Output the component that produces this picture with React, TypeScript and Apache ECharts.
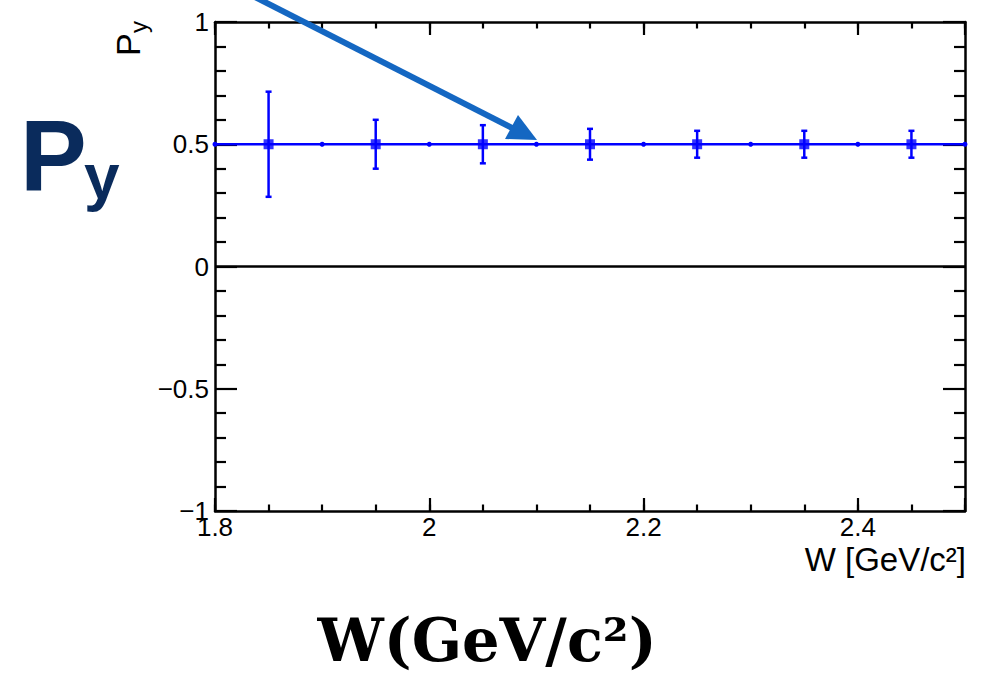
import React, { useEffect, useRef } from "react";
import * as echarts from "echarts";

// ---- data ----
const binEdges = [1.8, 1.9, 2.0, 2.1, 2.2, 2.3, 2.4, 2.5];
const curvePy = [0.5, 0.5, 0.5, 0.5, 0.5, 0.5, 0.5, 0.5];
const pointW = [1.85, 1.95, 2.05, 2.15, 2.25, 2.35, 2.45];
const pointPy = [0.5, 0.5, 0.5, 0.5, 0.5, 0.5, 0.5];
const pointErr = [0.215, 0.1, 0.078, 0.063, 0.055, 0.055, 0.055];
const zeroLineW = [1.8, 2.5];
const zeroLinePy = [0, 0];
const xRange = [1.8, 2.5];
const yRange = [-1, 1];

const BLUE = "#0000ff";
const SANS = "Liberation Sans, Arial, Helvetica, sans-serif";

const fmtNum = (v: number) => {
  const s = String(Math.round(v * 1000) / 1000);
  return s.replace("-", "\u2212");
};

export default function App() {
  const ref = useRef<HTMLDivElement>(null);

  useEffect(() => {
    if (!ref.current) return;
    const chart = echarts.init(ref.current, undefined, { renderer: "svg" });

    const baseX = (position: "bottom" | "top", interval: number, len: number, labels: boolean, line: boolean) => ({
      type: "value",
      position,
      min: xRange[0],
      max: xRange[1],
      interval,
      axisLine: { show: line, onZero: false, lineStyle: { color: "#000", width: 2.5 } },
      axisTick: { show: true, inside: true, length: len, lineStyle: { color: "#000", width: 2.2 } },
      axisLabel: {
        show: labels,
        color: "#000",
        fontFamily: SANS,
        fontSize: 26,
        margin: 3,
        formatter: (v: number) => (Math.abs(v - 2.5) < 1e-6 ? "" : fmtNum(v)),
      },
      splitLine: { show: false },
    });

    const baseY = (position: "left" | "right", labels: boolean) => ({
      type: "value",
      position,
      min: yRange[0],
      max: yRange[1],
      interval: 0.5,
      axisLine: { show: true, onZero: false, lineStyle: { color: "#000", width: 2.5 } },
      axisTick: { show: true, inside: true, length: 22, lineStyle: { color: "#000", width: 2.2 } },
      minorTick: { show: true, splitNumber: 5, length: 11, lineStyle: { color: "#000", width: 2.2 } },
      axisLabel: {
        show: labels,
        color: "#000",
        fontFamily: SANS,
        fontSize: 26,
        margin: 6,
        formatter: (v: number) => fmtNum(v),
      },
      splitLine: { show: false },
      minorSplitLine: { show: false },
    });

    const errData = pointW.map((w, i) => [w, pointPy[i], pointErr[i]]);

    const option: any = {
      animation: false,
      backgroundColor: "#fff",
      grid: { left: 215, right: 18, top: 22, bottom: 166, containLabel: false },
      xAxis: [
        baseX("bottom", 0.2, 13, true, true),
        baseX("bottom", 0.05, 6.5, false, false),
        baseX("top", 0.2, 13, false, true),
        baseX("top", 0.05, 6.5, false, false),
      ],
      yAxis: [baseY("left", true), baseY("right", false)],
      series: [
        {
          type: "line",
          xAxisIndex: 0,
          yAxisIndex: 0,
          data: zeroLineW.map((w, i) => [w, zeroLinePy[i]]),
          symbol: "none",
          lineStyle: { color: "#000", width: 2.5 },
          z: 2,
        },
        {
          type: "line",
          xAxisIndex: 0,
          yAxisIndex: 0,
          data: binEdges.map((w, i) => [w, curvePy[i]]),
          symbol: "circle",
          symbolSize: 5,
          showSymbol: true,
          itemStyle: { color: BLUE },
          lineStyle: { color: BLUE, width: 2.5 },
          z: 3,
        },
        {
          type: "custom",
          xAxisIndex: 0,
          yAxisIndex: 0,
          data: errData,
          renderItem: (params: any, api: any) => {
            const x = api.value(0);
            const y = api.value(1);
            const e = api.value(2);
            const top = api.coord([x, y + e]);
            const bot = api.coord([x, y - e]);
            const cap = 3;
            const st = { stroke: BLUE, lineWidth: 2.5 };
            return {
              type: "group",
              children: [
                { type: "line", shape: { x1: top[0], y1: top[1], x2: bot[0], y2: bot[1] }, style: st },
                { type: "line", shape: { x1: top[0] - cap, y1: top[1], x2: top[0] + cap, y2: top[1] }, style: st },
                { type: "line", shape: { x1: bot[0] - cap, y1: bot[1], x2: bot[0] + cap, y2: bot[1] }, style: st },
              ],
            };
          },
          z: 4,
        },
        {
          type: "scatter",
          xAxisIndex: 0,
          yAxisIndex: 0,
          data: pointW.map((w, i) => [w, pointPy[i]]),
          symbol: "rect",
          symbolSize: 10,
          itemStyle: { color: BLUE },
          z: 5,
        },
      ],
      graphic: [
        {
          type: "line",
          shape: { x1: 253, y1: -4, x2: 514, y2: 129 },
          style: { stroke: "#1467c2", lineWidth: 6 },
          z: 10,
        },
        {
          type: "polygon",
          shape: { points: [[537, 140], [505, 139], [518, 115]] },
          style: { fill: "#1467c2" },
          z: 10,
        },
        {
          type: "text",
          x: 20,
          y: 155,
          style: { text: "P", font: `bold 100px ${SANS}`, fill: "#0a2b5c", textAlign: "left", textVerticalAlign: "middle" },
        },
        {
          type: "text",
          x: 84,
          y: 177,
          style: { text: "y", font: `bold 64px ${SANS}`, fill: "#0a2b5c", textAlign: "left", textVerticalAlign: "middle" },
        },
        {
          type: "text",
          x: 128,
          y: 56,
          rotation: Math.PI / 2,
          style: { text: "P", font: `34px ${SANS}`, fill: "#000", textAlign: "left", textVerticalAlign: "middle" },
        },
        {
          type: "text",
          x: 138,
          y: 33,
          rotation: Math.PI / 2,
          style: { text: "y", font: `24px ${SANS}`, fill: "#000", textAlign: "left", textVerticalAlign: "middle" },
        },
        {
          type: "text",
          x: 966,
          y: 559,
          style: { text: "W [GeV/c\u00b2]", font: `33px ${SANS}`, fill: "#000", textAlign: "right", textVerticalAlign: "middle" },
        },
        {
          type: "text",
          x: 487,
          y: 640,
          style: { text: "W(GeV/c\u00b2)", font: `bold 59px DejaVu Serif, serif`, fill: "#000", textAlign: "center", textVerticalAlign: "middle" },
        },
      ],
    };

    chart.setOption(option);
    return () => chart.dispose();
  }, []);

  return <div ref={ref} style={{ position: "absolute", left: 0, top: 0, width: 983, height: 677 }} />;
}
